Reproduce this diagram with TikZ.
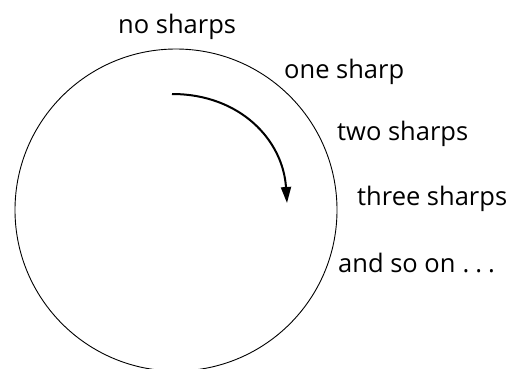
\documentclass[tikz,border=0pt]{standalone}
\usepackage{fontspec}
\setmainfont{Open Sans}
\usetikzlibrary{arrows.meta}
\begin{document}
\begin{tikzpicture}[x=1pt,y=-1pt,
  lbl/.style={inner sep=0pt,font=\fontsize{25.5}{30}\selectfont},
  ring/.style={draw,line width=0.9pt},
  turn/.style={draw,line width=2pt,-{Triangle[length=16pt,width=10pt]}}]
\useasboundingbox (0,0) rectangle (511,368);
\begin{scope}
\clip (0,0) rectangle (511,368);
\node[ring,circle,minimum size=322pt,inner sep=0pt] (c) at (176,210) {};
\end{scope}
\node[lbl,anchor=base west] (n0) at (118,33) {no sharps};
\node[lbl,anchor=base west] (n1) at (284,78) {one sharp};
\node[lbl,anchor=base west] (n2) at (337,140) {two sharps};
\node[lbl,anchor=base west] (n3) at (357,205) {three sharps};
\node[lbl,anchor=base west] (n4) at (338,272) {and so on\hspace{7pt}.\hspace{6pt}.\hspace{6pt}.};
\coordinate (a0) at (172,94);
\coordinate (a1) at (287,203);
\draw[turn] (a0) .. controls (240,94) and (283,140) .. (a1);
\end{tikzpicture}
\end{document}
